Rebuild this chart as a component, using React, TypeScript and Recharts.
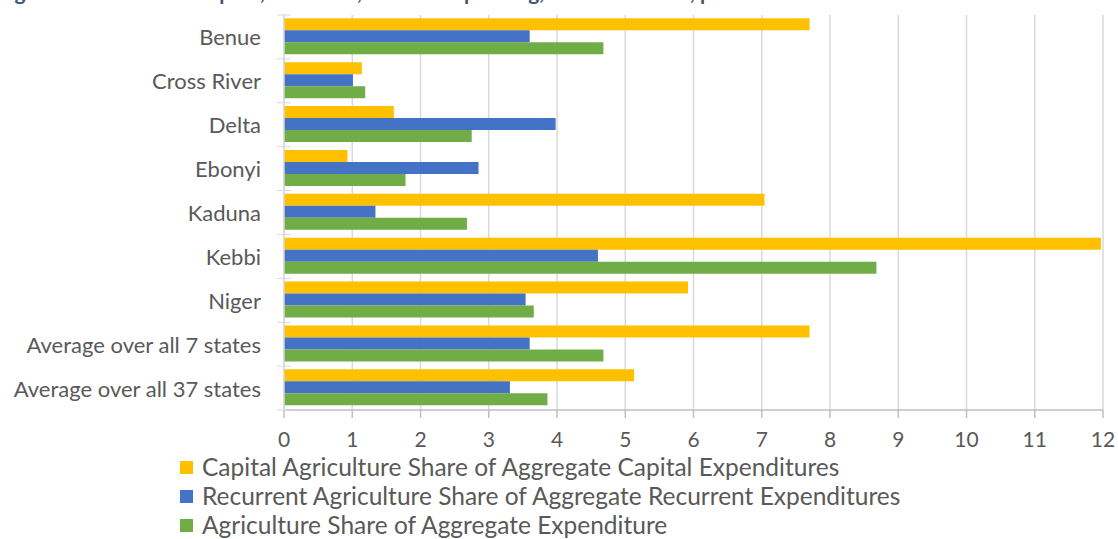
import React from "react";
import { Bar, BarChart, CartesianGrid, XAxis, YAxis } from "recharts";

const states = [
  "Benue",
  "Cross River",
  "Delta",
  "Ebonyi",
  "Kaduna",
  "Kebbi",
  "Niger",
  "Average over all 7 states",
  "Average over all 37 states",
];

const capitalShare = [7.7, 1.14, 1.61, 0.93, 7.04, 11.97, 5.92, 7.7, 5.13];
const recurrentShare = [3.6, 1.01, 3.98, 2.85, 1.34, 4.6, 3.54, 3.6, 3.31];
const totalShare = [4.68, 1.19, 2.75, 1.78, 2.68, 8.68, 3.66, 4.68, 3.86];

const xTicks = [0, 1, 2, 3, 4, 5, 6, 7, 8, 9, 10, 11, 12];

const series = [
  { key: "capital", name: "Capital Agriculture Share of Aggregate Capital Expenditures", color: "#FFC000" },
  { key: "recurrent", name: "Recurrent Agriculture Share of Aggregate Recurrent Expenditures", color: "#4472C4" },
  { key: "total", name: "Agriculture Share of Aggregate Expenditure", color: "#70AD47" },
];

const data = states.map((name, i) => ({
  name,
  capital: capitalShare[i],
  recurrent: recurrentShare[i],
  total: totalShare[i],
}));

const W = 1118;
const H = 539;
const PLOT_LEFT = 284;
const PLOT_TOP = 15;
const PLOT_BOTTOM = 410;
const BAND = (PLOT_BOTTOM - PLOT_TOP) / states.length;
const FONT = "Lato, 'Open Sans', sans-serif";
const TEXT = "#595959";

// category label plus the short tick marks sitting on band boundaries
function CategoryTick(props: any) {
  const { y, payload, index } = props;
  const top = y - BAND / 2;
  return (
    <g>
      <line x1={277} x2={291} y1={top} y2={top} stroke="#d9d9d9" />
      {index === states.length - 1 && (
        <line x1={277} x2={291} y1={y + BAND / 2} y2={y + BAND / 2} stroke="#d9d9d9" />
      )}
      <text
        x={261}
        y={y}
        textAnchor="end"
        dominantBaseline="central"
        fill={TEXT}
        fontSize={22}
        fontFamily={FONT}
      >
        {payload.value}
      </text>
    </g>
  );
}

export default function App() {
  return (
    <div style={{ position: "relative", width: W, height: H, overflow: "hidden", background: "#fff" }}>
      <style>{`body { margin: 0; }`}</style>
      <div
        style={{
          position: "absolute",
          left: 0,
          top: -21,
          fontFamily: FONT,
          fontWeight: 700,
          fontSize: 21,
          color: "#44546A",
          whiteSpace: "nowrap",
        }}
      >
        Agriculture shares of capital, recurrent, and total spending, for the 7 states, percent
      </div>
      <BarChart
        width={W}
        height={H}
        data={data}
        layout="vertical"
        margin={{ top: PLOT_TOP, right: W - 1103, left: 0, bottom: H - PLOT_BOTTOM - 40 }}
        barCategoryGap="7.4%"
        barGap={0}
      >
        <CartesianGrid horizontal={false} stroke="#d9d9d9" strokeWidth={1.5} />
        <XAxis
          type="number"
          domain={[0, 12]}
          ticks={xTicks}
          interval={0}
          height={40}
          axisLine={{ stroke: "#bfbfbf", strokeWidth: 1.5 }}
          tickLine={{ stroke: "#bfbfbf", strokeWidth: 1.5 }}
          tickSize={8}
          tickMargin={14}
          tick={{ fill: TEXT, fontSize: 21, fontFamily: FONT }}
        />
        <YAxis
          type="category"
          dataKey="name"
          width={PLOT_LEFT}
          axisLine={{ stroke: "#d9d9d9", strokeWidth: 1.5 }}
          tickLine={false}
          interval={0}
          tick={<CategoryTick />}
        />
        {series.map((s) => (
          <Bar key={s.key} dataKey={s.key} name={s.name} fill={s.color} isAnimationActive={false} />
        ))}
      </BarChart>
      <div
        style={{
          position: "absolute",
          left: 180,
          top: 453,
          fontFamily: FONT,
          fontSize: 24.5,
          lineHeight: 1,
          color: TEXT,
        }}
      >
        {series.map((s) => (
          <div key={s.key} style={{ display: "flex", alignItems: "center", height: 29 }}>
            <span style={{ width: 13, height: 13, background: s.color, marginRight: 9, flex: "none" }} />
            {s.name}
          </div>
        ))}
      </div>
    </div>
  );
}
